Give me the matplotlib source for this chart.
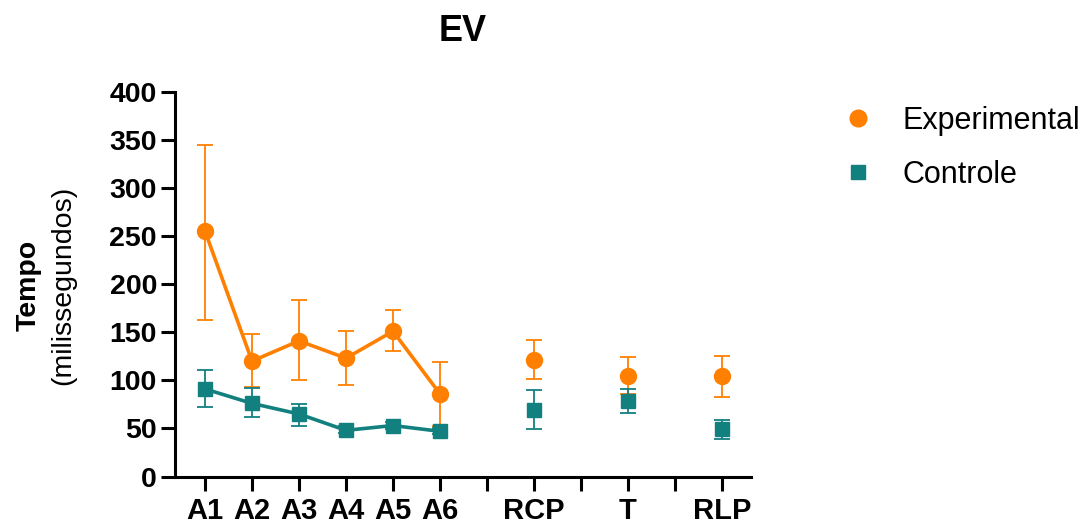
import matplotlib
matplotlib.use("Agg")
import matplotlib.pyplot as plt
from matplotlib.lines import Line2D
import numpy as np

plt.rcParams['font.family'] = ['Liberation Sans', 'DejaVu Sans']

categories = ["A1", "A2", "A3", "A4", "A5", "A6", "RCP", "T", "RLP"]
positions = [0, 1, 2, 3, 4, 5, 7, 9, 11]

exp_mean = [255, 120, 141, 123, 151, 86, 121, 105, 104]
exp_upper = [345, 148, 183, 151, 173, 119, 142, 124, 125]
exp_lower = [163, 93, 100, 95, 130, 53, 101, 86, 83]

ctl_mean = [91, 76, 65, 48, 53, 47, 69, 79, 49]
ctl_upper = [111, 92, 75, 52, 57, 50, 90, 91, 59]
ctl_lower = [72, 62, 53, 45, 49, 44, 49, 66, 39]

orange = "#FF8000"
teal = "#138080"

fig = plt.figure(figsize=(10.86, 5.24), dpi=100)
ax = fig.add_axes([0.1611, 0.0906, 0.5304, 0.7344])

x = np.array(positions, dtype=float)
n_connected = 6


def draw(mean, lower, upper, color, marker, ms):
    mean = np.array(mean, dtype=float)
    yerr = np.array([mean - np.array(lower), np.array(upper) - mean])
    ax.errorbar(x, mean, yerr=yerr, fmt='none', ecolor=color, elinewidth=1.3,
                capsize=6, capthick=1.3, zorder=2)
    ax.plot(x[:n_connected], mean[:n_connected], color=color, lw=2.6, zorder=3)
    ax.plot(x, mean, linestyle='none', marker=marker, ms=ms, color=color,
            markeredgecolor=color, zorder=4)


draw(exp_mean, exp_lower, exp_upper, orange, 'o', 11.5)
draw(ctl_mean, ctl_lower, ctl_upper, teal, 's', 10)

ax.set_xlim(-0.64, 11.62)
ax.set_ylim(0, 400)
ax.set_yticks(np.arange(0, 401, 50))
ax.set_xticks(range(0, 12))
labels = []
for i in range(12):
    labels.append(categories[positions.index(i)] if i in positions else "")
ax.set_xticklabels(labels)

for s in ['top', 'right']:
    ax.spines[s].set_visible(False)
for s in ['left', 'bottom']:
    ax.spines[s].set_linewidth(2.2)
ax.tick_params(axis='both', direction='out', width=2.2, length=10, pad=3)
ax.tick_params(axis='x', pad=5)
for lab in ax.get_yticklabels():
    lab.set_fontsize(20.5)
    lab.set_fontweight('bold')
for lab in ax.get_xticklabels():
    lab.set_fontsize(21)
    lab.set_fontweight('bold')

fig.text(0.026, 0.456, "Tempo", rotation=90, fontsize=20.5, fontweight='bold',
         ha='center', va='center')
fig.text(0.058, 0.456, "(milissegundos)", rotation=90, fontsize=20.5,
         ha='center', va='center')

fig.text(0.426, 0.94, "EV", fontsize=26, fontweight='bold', ha='center', va='center')

handles = [
    Line2D([], [], linestyle='none', marker='o', ms=12, color=orange),
    Line2D([], [], linestyle='none', marker='s', ms=10, color=teal),
]
fig.legend(handles, ["Experimental", "Controle"], loc='center left',
           bbox_to_anchor=(0.765, 0.718), frameon=False, fontsize=22,
           handlelength=1.0, handletextpad=0.95, labelspacing=0.8,
           borderaxespad=0)

fig.savefig("out.png", dpi=100)
